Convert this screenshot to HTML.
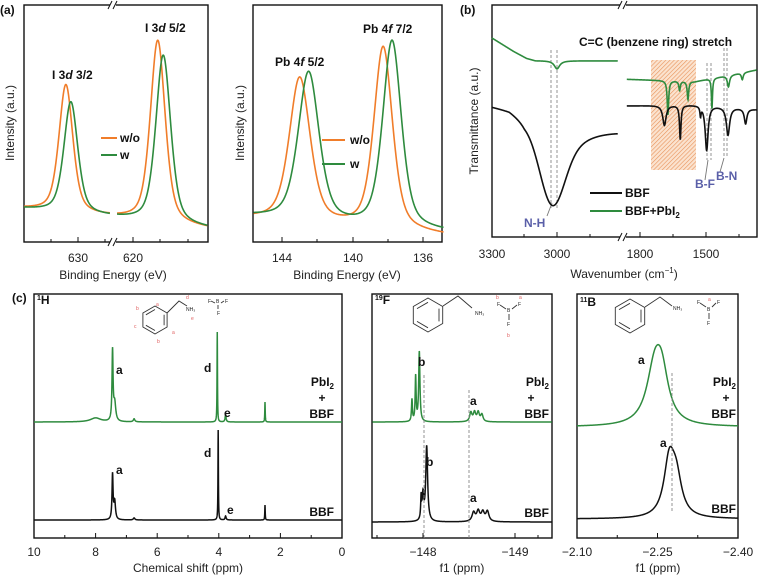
<!DOCTYPE html>
<html><head><meta charset="utf-8"><style>
html,body{margin:0;padding:0;background:#fff;}
svg{display:block;font-family:"Liberation Sans",sans-serif;}
.t{font-size:12px;fill:#222;}
.b{font-size:12px;font-weight:bold;fill:#111;}
.ax{fill:none;stroke:#111;stroke-width:1.4;}
.tk{stroke:#111;stroke-width:1;}
.bl{font-size:12px;font-weight:bold;fill:#5a5fa8;}
.m{font-size:5px;fill:#222;}
.mr{font-size:5px;fill:#e06060;}
</style></head><body>
<svg id="fig" width="759" height="579" viewBox="0 0 759 579">
<defs><pattern id="hatch" width="3" height="3" patternUnits="userSpaceOnUse" patternTransform="rotate(45)"><rect width="3" height="3" fill="#fbe3cf"/><line x1="0" y1="0" x2="0" y2="3" stroke="#e8925a" stroke-width="1.2"/></pattern></defs>

<g>
<text x="0" y="14" class="b">(a)</text>
<rect x="24" y="5" width="184" height="237" class="ax"/>
<rect x="110" y="2" width="6" height="6" fill="#fff"/><rect x="110" y="239" width="6" height="6" fill="#fff"/>
<path d="M108 9L112 1M113 9L117 1M108 246L112 238M113 246L117 238" class="tk"/>
<path d="M78 242v-5M133 242v-5M51 242v-3M105 242v-3M160 242v-3M188 242v-3" class="tk"/>
<text x="78" y="262" class="t" text-anchor="middle">630</text>
<text x="133" y="262" class="t" text-anchor="middle">620</text>
<text x="113" y="279" class="t" text-anchor="middle">Binding Energy (eV)</text>
<text transform="translate(14,123) rotate(-90)" class="t" text-anchor="middle">Intensity (a.u.)</text>
<text x="52" y="79" class="b">I 3<tspan font-style="italic">d</tspan> 3/2</text>
<text x="145" y="32" class="b">I 3<tspan font-style="italic">d</tspan> 5/2</text>
<line x1="101" y1="138" x2="117" y2="138" stroke="#f07d2a" stroke-width="2"/><text x="120" y="142" class="b">w/o</text>
<line x1="101" y1="155" x2="117" y2="155" stroke="#2e8b3e" stroke-width="2"/><text x="120" y="159" class="b">w</text>
<g id="a1c"></g>
</g>

<g>
<rect x="253" y="5" width="189" height="237" class="ax"/>
<path d="M282 242v-5M353 242v-5M423 242v-5M317 242v-3M388 242v-3" class="tk"/>
<text x="282" y="262" class="t" text-anchor="middle">144</text>
<text x="353" y="262" class="t" text-anchor="middle">140</text>
<text x="423" y="262" class="t" text-anchor="middle">136</text>
<text x="347" y="279" class="t" text-anchor="middle">Binding Energy (eV)</text>
<text transform="translate(244,123) rotate(-90)" class="t" text-anchor="middle">Intensity (a.u.)</text>
<text x="275" y="66" class="b">Pb 4<tspan font-style="italic">f</tspan> 5/2</text>
<text x="363" y="33" class="b">Pb 4<tspan font-style="italic">f</tspan> 7/2</text>
<line x1="322" y1="140" x2="345" y2="140" stroke="#f07d2a" stroke-width="2"/><text x="350" y="144" class="b">w/o</text>
<line x1="322" y1="164" x2="345" y2="164" stroke="#2e8b3e" stroke-width="2"/><text x="350" y="168" class="b">w</text>
<g id="a2c"></g>
</g>

<g>
<text x="460" y="14" class="b">(b)</text>
<rect x="651" y="60" width="45" height="110" fill="url(#hatch)"/>
<rect x="492" y="5" width="265" height="232" class="ax"/>
<rect x="620" y="2" width="6" height="6" fill="#fff"/><rect x="620" y="234" width="6" height="6" fill="#fff"/>
<path d="M618 9L622 1M623 9L627 1M618 241L622 233M623 241L627 233" class="tk"/>
<path d="M492 237v-5M557 237v-5M640 237v-5M706 237v-5M524 237v-3M590 237v-3M673 237v-3M739 237v-3" class="tk"/>
<text x="492" y="258" class="t" text-anchor="middle">3300</text>
<text x="557" y="258" class="t" text-anchor="middle">3000</text>
<text x="640" y="258" class="t" text-anchor="middle">1800</text>
<text x="706" y="258" class="t" text-anchor="middle">1500</text>
<text x="624" y="278" class="t" text-anchor="middle">Wavenumber (cm<tspan font-size="8" dy="-5">−1</tspan><tspan dy="5">)</tspan></text>
<text transform="translate(478,121) rotate(-90)" class="t" text-anchor="middle">Transmittance (a.u.)</text>
<text x="579" y="46" class="b" font-size="11.5">C=C (benzene ring) stretch</text>
<path d="M551 50V208M557 50V208M707 63V160M711 63V160M724 48V158M727 48V158" stroke="#888" stroke-width="0.9" stroke-dasharray="3,2"/>
<path d="M547 216L552 203M705 180L708 160M720 172L724 158" stroke="#777" stroke-width="0.9"/>
<text x="524" y="227" class="bl">N-H</text>
<text x="695" y="188" class="bl">B-F</text>
<text x="716" y="180" class="bl">B-N</text>
<line x1="590" y1="193" x2="622" y2="193" stroke="#111" stroke-width="2"/><text x="625" y="197" class="b">BBF</text>
<line x1="590" y1="211" x2="622" y2="211" stroke="#2e8b3e" stroke-width="2"/><text x="625" y="215" class="b">BBF+PbI<tspan font-size="8" dy="3">2</tspan></text>
<g id="bc"></g>
</g>

<g>
<text x="12" y="302" class="b">(c)</text>
<rect x="34" y="294" width="308" height="244" class="ax"/>
<g id="c1t"></g>
<text x="188" y="572" class="t" text-anchor="middle">Chemical shift (ppm)</text>
<text x="37" y="304" class="b"><tspan font-size="7" dy="-4">1</tspan><tspan dy="4">H</tspan></text>
<g id="mol1" fill="none" stroke="#333" stroke-width="0.9"></g>
<text x="186" y="311" class="m">NH₃</text><text x="208" y="303" class="m">F</text><text x="225" y="303" class="m">F</text><text x="216" y="303" class="m">B</text><text x="217" y="315" class="m">F</text>
<text x="156" y="306" class="mr">a</text><text x="136" y="310" class="mr">b</text><text x="134" y="328" class="mr">c</text><text x="157" y="343" class="mr">b</text><text x="172" y="334" class="mr">a</text><text x="186" y="299" class="mr">d</text><text x="191" y="320" class="mr">e</text>
<text x="116" y="374" class="b">a</text><text x="116" y="474" class="b">a</text>
<text x="204" y="372" class="b">d</text><text x="204" y="457" class="b">d</text>
<text x="224" y="417" class="b">e</text><text x="227" y="514" class="b">e</text>
<text x="334" y="386" class="b" text-anchor="end">PbI<tspan font-size="8" dy="3">2</tspan></text>
<text x="322" y="402" class="b" text-anchor="middle">+</text>
<text x="334" y="418" class="b" text-anchor="end">BBF</text>
<text x="334" y="516" class="b" text-anchor="end">BBF</text>
</g>

<g>
<rect x="372" y="294" width="180" height="244" class="ax"/>
<g id="c2t"></g>
<text x="462" y="572" class="t" text-anchor="middle">f1 (ppm)</text>
<text x="375" y="304" class="b"><tspan font-size="7" dy="-4">19</tspan><tspan dy="4">F</tspan></text>
<g id="mol2" fill="none" stroke="#333" stroke-width="0.9"></g>
<text x="475" y="315" class="m">NH₃</text><text x="497" y="306" class="m">F</text><text x="507" y="312" class="m">B</text><text x="518" y="306" class="m">F</text><text x="507" y="326" class="m">F</text>
<text x="496" y="299" class="mr">b</text><text x="519" y="299" class="mr">a</text><text x="507" y="337" class="mr">b</text>
<path d="M424 375V538M469 390V538" stroke="#888" stroke-width="0.9" stroke-dasharray="3,2"/>
<text x="418" y="366" class="b">b</text><text x="426" y="466" class="b">b</text>
<text x="470" y="405" class="b">a</text><text x="470" y="502" class="b">a</text>
<text x="549" y="386" class="b" text-anchor="end">PbI<tspan font-size="8" dy="3">2</tspan></text>
<text x="531" y="402" class="b" text-anchor="middle">+</text>
<text x="549" y="418" class="b" text-anchor="end">BBF</text>
<text x="549" y="517" class="b" text-anchor="end">BBF</text>
</g>

<g>
<rect x="577" y="294" width="161" height="244" class="ax"/>
<g id="c3t"></g>
<text x="658" y="572" class="t" text-anchor="middle">f1 (ppm)</text>
<text x="580" y="306" class="b"><tspan font-size="7" dy="-4">11</tspan><tspan dy="4">B</tspan></text>
<g id="mol3" fill="none" stroke="#333" stroke-width="0.9"></g>
<text x="673" y="310" class="m">NH₃</text><text x="697" y="304" class="m">F</text><text x="707" y="311" class="m">B</text><text x="717" y="304" class="m">F</text><text x="707" y="325" class="m">F</text>
<text x="708" y="301" class="mr">a</text>
<path d="M672 373V512" stroke="#888" stroke-width="0.9" stroke-dasharray="3,2"/>
<text x="638" y="364" class="b">a</text><text x="660" y="447" class="b">a</text>
<text x="736" y="386" class="b" text-anchor="end">PbI<tspan font-size="8" dy="3">2</tspan></text>
<text x="726" y="402" class="b" text-anchor="middle">+</text>
<text x="736" y="418" class="b" text-anchor="end">BBF</text>
<text x="736" y="513" class="b" text-anchor="end">BBF</text>
</g>
</svg>
<script>
const i3dWoPeaks = [[632.2,0.54,1.5],[615.5,0.77,1.6]];
const i3dWPeaks  = [[631.3,0.47,1.5],[614.5,0.71,1.6]];
const i3dBase = [[640,0.14],[623.6,0.10],[606,0.055]];
const pbWoPeaks = [[143.0,0.61,0.7],[138.3,0.77,0.62]];
const pbWPeaks  = [[142.5,0.63,0.7],[137.8,0.79,0.62]];
const pbWoBase = [[146,0.10],[140,0.06],[134.5,0.025]];
const pbWBase  = [[146,0.11],[140,0.065],[134.5,0.04]];
const irGreenLeftBase = [[3300,85.8],[3200,80],[3140,77],[3100,76],[2720,75.9]];
const irGreenLeftDips = [[3000,3.5,15]];
const irBlackLeftBase = [[3300,57.3],[3220,56],[3150,52],[2720,47]];
const irBlackLeftDips = [[3025,28,55],[2960,11,130]];
const irGreenRightBase = [[1870,68],[1550,67],[1270,72]];
const irGreenRightDips = [[1673,14.7,4],[1620,4,4],[1582,7.8,4],[1473,13,3],[1398,5,6],[1335,3,5]];
const irBlackRightBase = [[1870,56.5],[1520,57],[1270,55]];
const irBlackRightDips = [[1689,8.6,9],[1617,14.7,4],[1525,4,3],[1497,19.4,8],[1400,12,9],[1320,6.5,7]];
const h1GreenPeaks = [[8.0,4,0.2],[7.45,70,0.02],[7.38,18,0.04],[6.75,3,0.03],[4.05,90,0.008],[3.78,7,0.02],[2.5,20,0.008]];
const h1BlackPeaks = [[7.45,45,0.02],[7.38,18,0.03],[6.75,2,0.03],[4.02,90,0.008],[3.78,4,0.02],[2.5,15,0.008]];
const f19GreenPeaks = [[-147.96,70,0.008],[-147.92,45,0.006],[-147.88,22,0.006],[-148.52,9,0.015],[-148.56,9,0.015],[-148.6,9,0.015],[-148.64,7,0.015]];
const f19BlackPeaks = [[-148.04,75,0.012],[-148.0,25,0.01],[-147.98,22,0.006],[-148.55,9,0.02],[-148.6,10,0.02],[-148.65,9,0.02],[-148.7,10,0.02]];
const b11GreenPeaks = [[-2.245,55,0.018],[-2.258,40,0.015]];
const b11BlackPeaks = [[-2.272,55,0.012],[-2.285,35,0.012]];
const h1Ticks = [10,8,6,4,2,0];
const f19Ticks = [-148,-149];
const b11Ticks = [-2.10,-2.25,-2.40];

const NS='http://www.w3.org/2000/svg';
function mk(tag,parent){const e=document.createElementNS(NS,tag);document.getElementById(parent).appendChild(e);return e;}
function lor(x,c,g){const d=(x-c)/g;return 1/(1+d*d);}
function pv(x,c,g){const d=(x-c)/g;return 0.5/(1+d*d)+0.5*Math.exp(-0.693*d*d);}
function interp(pts,x){for(let i=0;i<pts.length-1;i++){const a=pts[i],b=pts[i+1];if((x-a[0])*(x-b[0])<=0){const t=(x-a[0])/(b[0]-a[0]);return a[1]+t*(b[1]-a[1]);}}return pts[x>pts[0][0]===(pts[0][0]>pts[pts.length-1][0])?0:pts.length-1][1];}
function curve(x0,x1,n,fy,fx,fv){let d='';for(let i=0;i<=n;i++){const x=x0+(x1-x0)*i/n;d+=(i?'L':'M')+fx(x).toFixed(2)+' '+fy(fv(x)).toFixed(2);}return d;}
function sumPeaks(p,x){let s=0;for(const q of p)s+=q[1]*lor(x,q[0],q[2]);return s;}
function sumPV(p,x){let s=0;for(const q of p)s+=q[1]*pv(x,q[0],q[2]);return s;}

const xA1=e=>78+(630-e)*5.5, yA=v=>242-v*237;
[[i3dWoPeaks,'#f07d2a','i3d-wo-curve'],[i3dWPeaks,'#2e8b3e','i3d-w-curve']].forEach(([pk,col,nm])=>{
  [[639.8,624.2],[622.9,606.5]].forEach(seg=>{
    const p=mk('path','a1c');
    
    
    p.setAttribute('d',curve(seg[0],seg[1],300,yA,xA1,x=>interp(i3dBase,x)+sumPV(pk,x)));
    p.setAttribute('fill','none');p.setAttribute('stroke',col);p.setAttribute('stroke-width','1.6');
  });
});
const xA2=e=>282+(144-e)*17.75;
[[pbWoPeaks,pbWoBase,'#f07d2a','pb-wo-curve'],[pbWPeaks,pbWBase,'#2e8b3e','pb-w-curve']].forEach(([pk,bs,col,nm])=>{
  const p=mk('path','a2c');
  
  
  p.setAttribute('d',curve(145.6,134.9,400,yA,xA2,x=>interp(bs,x)+sumPV(pk,x)));
  p.setAttribute('fill','none');p.setAttribute('stroke',col);p.setAttribute('stroke-width','1.6');
});
const xBL=w=>557+(3000-w)*0.217, xBR=w=>706+(1500-w)*0.22, yB=t=>237-t*2.32;
function irVal(base,dips,w){let v=interp(base,w);for(const d of dips)v-=d[1]*lor(w,d[0],d[2]);return v;}
function irGauss(base,dips,w){let v=interp(base,w);v-=dips[0][1]*Math.exp(-Math.pow((w-dips[0][0])/dips[0][2],2)/2);v-=dips[1][1]*lor(w,dips[1][0],dips[1][2]);return v;}
[['#2e8b3e','ir-bbf-pbi2-left',3300,2720,xBL,w=>irVal(irGreenLeftBase,irGreenLeftDips,w)],
 ['#111','ir-bbf-left',3300,2720,xBL,w=>irGauss(irBlackLeftBase,irBlackLeftDips,w)],
 ['#2e8b3e','ir-bbf-pbi2-right',1860,1270,xBR,w=>irVal(irGreenRightBase,irGreenRightDips,w)],
 ['#111','ir-bbf-right',1860,1270,xBR,w=>irVal(irBlackRightBase,irBlackRightDips,w)]].forEach(([col,nm,w0,w1,fx,fv])=>{
  const p=mk('path','bc');
  
  
  p.setAttribute('d',curve(w0,w1,700,yB,fx,fv));
  p.setAttribute('fill','none');p.setAttribute('stroke',col);p.setAttribute('stroke-width','1.6');
});
function nmr(g,pk,ppm0,ppm1,fx,base,col,nm,n){
  const p=mk('path',g);
  
  
  p.setAttribute('d',curve(ppm0,ppm1,n,v=>base-v,fx,x=>sumPeaks(pk,x)));
  p.setAttribute('fill','none');p.setAttribute('stroke',col);p.setAttribute('stroke-width','1.5');
}
const xH=p=>34+(10-p)*30.8, xF=p=>423+(-148-p)*92, xB=p=>577+(-2.10-p)*536.7;
nmr('c1t',h1GreenPeaks,10,0,xH,422,'#2e8b3e','h1-pbi2-bbf-spectrum',3000);
nmr('c1t',h1BlackPeaks,10,0,xH,520,'#111','h1-bbf-spectrum',3000);
nmr('c2t',f19GreenPeaks,-147.45,-149.4,xF,422,'#2e8b3e','f19-pbi2-bbf-spectrum',1500);
nmr('c2t',f19BlackPeaks,-147.45,-149.4,xF,522,'#111','f19-bbf-spectrum',1500);
nmr('c3t',b11GreenPeaks,-2.10,-2.40,xB,427,'#2e8b3e','b11-pbi2-bbf-spectrum',400);
nmr('c3t',b11BlackPeaks,-2.10,-2.40,xB,519,'#111','b11-bbf-spectrum',400);
function ticks(g,arr,fx,minor,fmt){
  for(const v of arr){const l=mk('line',g);l.setAttribute('x1',fx(v));l.setAttribute('x2',fx(v));l.setAttribute('y1',538);l.setAttribute('y2',533);l.setAttribute('class','tk');
    const t=mk('text',g);t.setAttribute('x',fx(v));t.setAttribute('y',556);t.setAttribute('class','t');t.setAttribute('font-size','13');t.setAttribute('text-anchor','middle');t.textContent=fmt(v);}
  for(const v of minor){const l=mk('line',g);l.setAttribute('x1',fx(v));l.setAttribute('x2',fx(v));l.setAttribute('y1',538);l.setAttribute('y2',535);l.setAttribute('class','tk');}
}
ticks('c1t',h1Ticks,xH,[9,7,5,3,1],v=>String(v));
ticks('c2t',f19Ticks,xF,[-147.5,-148.5,-149.25],v=>'−'+Math.abs(v));
ticks('c3t',b11Ticks,xB,[-2.175,-2.325],v=>'−'+Math.abs(v).toFixed(2));
function mol(g,cx,cy,r,tail){
  let d='';for(let i=0;i<6;i++){const a=Math.PI/6+i*Math.PI/3;d+=(i?'L':'M')+(cx+r*Math.cos(a)).toFixed(1)+' '+(cy+r*Math.sin(a)).toFixed(1);}d+='Z';
  const ri=r*0.75;[[1,2],[3,4],[5,0]].forEach(([i,j])=>{const a=Math.PI/6+i*Math.PI/3,b=Math.PI/6+j*Math.PI/3;d+='M'+(cx+ri*Math.cos(a)).toFixed(1)+' '+(cy+ri*Math.sin(a)).toFixed(1)+'L'+(cx+ri*Math.cos(b)).toFixed(1)+' '+(cy+ri*Math.sin(b)).toFixed(1);});
  d+=tail;const p=mk('path',g);
  
  
  p.setAttribute('d',d);
}
mol('mol1',155,320,14,'M167 313L179 301L187 306');
mol('mol2',428,315,17,'M443 306L458 296L472 308');
mol('mol3',630,316,17,'M645 307L660 297L672 306');
const bl=[['mol1','M211 301L215 303M221 303L224 301M218 305V309'],['mol2','M500 305L506 309M512 309L517 305M509 314V320'],['mol3','M700 303L706 307M712 307L716 303M709 313V319']];
bl.forEach(([g,d])=>{const p=mk('path',g);
  
  
  p.setAttribute('d',d);});
</script>
</body></html>
